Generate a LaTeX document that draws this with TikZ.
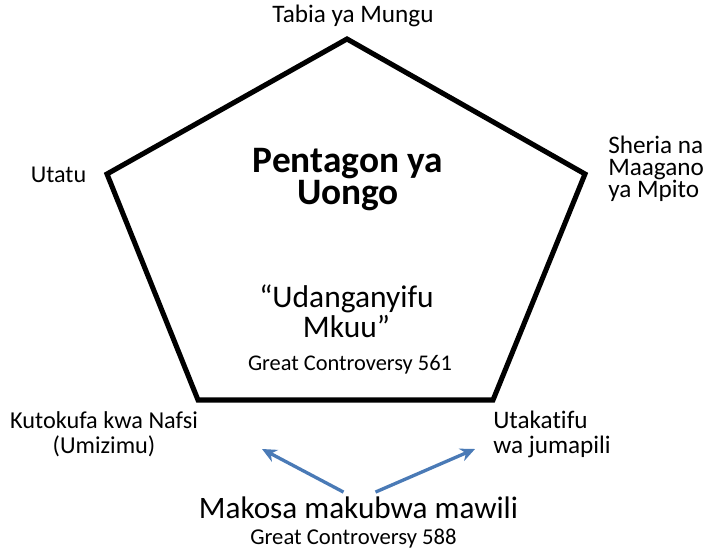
\documentclass[tikz,border=0pt]{standalone}
\usepackage{fontspec}
\setmainfont{Carlito}[Ligatures={TeX,NoCommon}]
\usepackage{xcolor}
\usetikzlibrary{arrows.meta,positioning}
\definecolor{arrowblue}{RGB}{74,122,182}

\begin{document}
\begin{tikzpicture}[
  x=0.75pt, y=-0.75pt,
  edge/.style={line width=3.8pt, line join=miter},
  corner/.style={font=\fontsize{18.9}{16.5}\selectfont, inner sep=0pt, anchor=base},
  title/.style={font=\fontsize{28}{24}\selectfont\bfseries, align=center, inner sep=0pt, anchor=base},
  quote/.style={font=\fontsize{23.6}{22}\selectfont, align=center, inner sep=0pt, anchor=base},
  source/.style={font=\fontsize{16.8}{20}\selectfont, inner sep=0pt, anchor=base},
  pointer/.style={draw=arrowblue, line width=2.5pt, -{Stealth[length=11pt,width=10pt]}}
]
\useasboundingbox (0,0) rectangle (705,555);

% pentagon corners
\coordinate (top) at (347,39);
\coordinate (left) at (107,174);
\coordinate (right) at (585,174);
\coordinate (botL) at (198,400);
\coordinate (botR) at (493,400);
\draw[edge] (top) -- (right) -- (botR) -- (botL) -- (left) -- cycle;

% corner labels (base = last line)
\node[corner] (tabia) at (353,23) {Tabia ya Mungu};
\node[corner, font=\fontsize{18.1}{20}\selectfont] (utatu) at (58.5,183) {Utatu};
\node[corner, align=left, anchor=base west] (sheria) at (608,198) {Sheria na\\Maagano\\ya Mpito};
\node[corner, align=center, font=\fontsize{18.2}{18.5}\selectfont] (kutokufa) at (104,453) {Kutokufa kwa Nafsi\\(Umizimu)};
\node[corner, align=left, anchor=base west, font=\fontsize{18.9}{18.75}\selectfont] (utakatifu) at (493,453) {Utakatifu\\wa jumapili};

% inside the pentagon
\node[title] (pentagon) at (348,205) {Pentagon ya\\Uongo};
\node[quote] (udanganyifu) at (346.5,337) {“Udanganyifu\\Mkuu”};
\node[source] (gc561) at (350,370) {Great Controversy 561};

% bottom
\node[quote, font=\fontsize{23.4}{28}\selectfont] (makosa) at (358.5,518) {Makosa makubwa mawili};
\node[source, font=\fontsize{17}{20}\selectfont] (gc588) at (353.5,544) {Great Controversy 588};

\coordinate (tipL) at (262,449);
\coordinate (tipR) at (475,449);
\draw[pointer] (makosa.north) ++(-15,-4) coordinate (startL) -- (tipL);
\draw[pointer] (makosa.north) ++(17,-4) coordinate (startR) -- (tipR);
\end{tikzpicture}
\end{document}
